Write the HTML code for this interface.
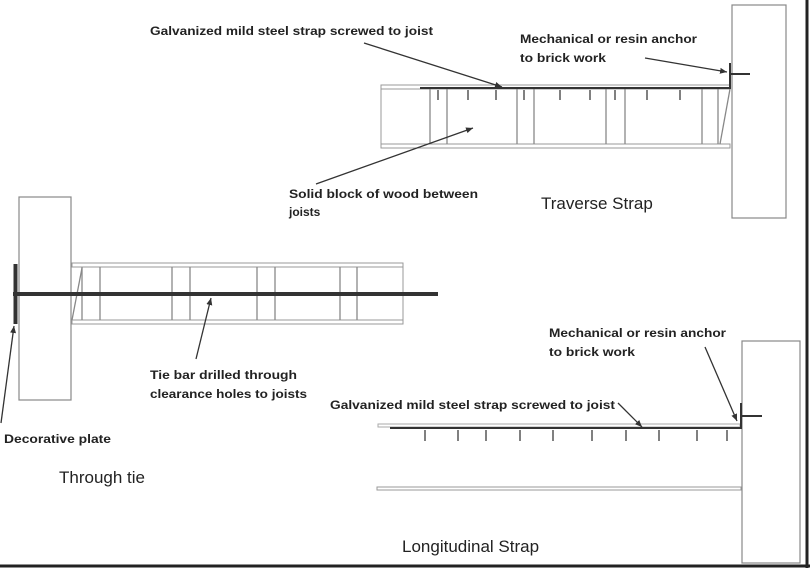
<!DOCTYPE html>
<html><head><meta charset="utf-8"><style>
html,body{margin:0;padding:0;background:#fff;}
svg{display:block;}
text{font-family:"Liberation Sans",sans-serif;fill:#222;}
.s{font-size:12px;font-weight:bold;}
.b{font-size:17px;}
</style></head><body>
<svg width="810" height="568" viewBox="0 0 810 568" xmlns="http://www.w3.org/2000/svg">
<defs><marker id="a" markerWidth="8" markerHeight="8" refX="7" refY="4" orient="auto" markerUnits="userSpaceOnUse"><path d="M0,1 L7,4 L0,7 Z" fill="#333"/></marker></defs>
<rect width="810" height="568" fill="#fff"/>
<line x1="807" y1="0" x2="807" y2="568" stroke="#222" stroke-width="3"/>
<line x1="0" y1="566" x2="810" y2="566" stroke="#222" stroke-width="3"/>

<!-- Traverse strap -->
<rect x="732" y="5" width="54" height="213" fill="none" stroke="#888" stroke-width="1.2"/>
<rect x="381" y="85" width="349" height="4" fill="none" stroke="#999" stroke-width="1"/>
<rect x="381" y="144" width="349" height="4" fill="none" stroke="#999" stroke-width="1"/>
<line x1="381" y1="89" x2="381" y2="144" stroke="#999"/>
<line x1="420" y1="88" x2="731" y2="88" stroke="#333" stroke-width="2"/>
<g stroke="#888" stroke-width="1.3">
<line x1="430" y1="89" x2="430" y2="144"/><line x1="447" y1="89" x2="447" y2="144"/>
<line x1="517" y1="89" x2="517" y2="144"/><line x1="534" y1="89" x2="534" y2="144"/>
<line x1="606" y1="89" x2="606" y2="144"/><line x1="625" y1="89" x2="625" y2="144"/>
<line x1="702" y1="89" x2="702" y2="144"/><line x1="718" y1="89" x2="718" y2="144"/>
<line x1="730" y1="89" x2="720" y2="144"/>
</g>
<g stroke="#555" stroke-width="1.5">
<line x1="438" y1="90" x2="438" y2="100"/><line x1="468" y1="90" x2="468" y2="100"/><line x1="496" y1="90" x2="496" y2="100"/>
<line x1="524" y1="90" x2="524" y2="100"/><line x1="560" y1="90" x2="560" y2="100"/><line x1="590" y1="90" x2="590" y2="100"/>
<line x1="615" y1="90" x2="615" y2="100"/><line x1="647" y1="90" x2="647" y2="100"/><line x1="680" y1="90" x2="680" y2="100"/>
</g>
<line x1="730" y1="63" x2="730" y2="89" stroke="#333" stroke-width="2"/>
<line x1="730" y1="74" x2="750" y2="74" stroke="#333" stroke-width="2"/>

<!-- Through tie -->
<rect x="19" y="197" width="52" height="203" fill="none" stroke="#888" stroke-width="1.2"/>
<rect x="72" y="263" width="331" height="4" fill="none" stroke="#999" stroke-width="1"/>
<rect x="72" y="320" width="331" height="4" fill="none" stroke="#999" stroke-width="1"/>
<line x1="403" y1="267" x2="403" y2="320" stroke="#999"/>
<g stroke="#888" stroke-width="1.3">
<line x1="82" y1="267" x2="82" y2="320"/><line x1="100" y1="267" x2="100" y2="320"/>
<line x1="172" y1="267" x2="172" y2="320"/><line x1="190" y1="267" x2="190" y2="320"/>
<line x1="257" y1="267" x2="257" y2="320"/><line x1="275" y1="267" x2="275" y2="320"/>
<line x1="340" y1="267" x2="340" y2="320"/><line x1="357" y1="267" x2="357" y2="320"/>
<line x1="72" y1="320" x2="82" y2="268"/>
</g>
<line x1="13" y1="294" x2="438" y2="294" stroke="#333" stroke-width="4"/>
<line x1="15.5" y1="264" x2="15.5" y2="324" stroke="#333" stroke-width="4"/>

<!-- Longitudinal strap -->
<rect x="742" y="341" width="58" height="222" fill="none" stroke="#888" stroke-width="1.2"/>
<rect x="378" y="424" width="362" height="3" fill="none" stroke="#aaa" stroke-width="1"/>
<line x1="390" y1="428" x2="742" y2="428" stroke="#333" stroke-width="2"/>
<line x1="741" y1="403" x2="741" y2="429" stroke="#333" stroke-width="2"/>
<line x1="741" y1="416" x2="762" y2="416" stroke="#333" stroke-width="2"/>
<g stroke="#555" stroke-width="1.5">
<line x1="425" y1="430" x2="425" y2="441"/><line x1="458" y1="430" x2="458" y2="441"/><line x1="486" y1="430" x2="486" y2="441"/>
<line x1="520" y1="430" x2="520" y2="441"/><line x1="553" y1="430" x2="553" y2="441"/><line x1="592" y1="430" x2="592" y2="441"/>
<line x1="626" y1="430" x2="626" y2="441"/><line x1="659" y1="430" x2="659" y2="441"/><line x1="697" y1="430" x2="697" y2="441"/>
<line x1="727" y1="430" x2="727" y2="441"/>
</g>
<rect x="377" y="487" width="364" height="3" fill="none" stroke="#999" stroke-width="1"/>

<!-- arrows -->
<g stroke="#333" stroke-width="1.3" fill="none" marker-end="url(#a)">
<line x1="364" y1="43" x2="502" y2="87"/>
<line x1="645" y1="58" x2="727" y2="72"/>
<line x1="316" y1="184" x2="473" y2="128"/>
<line x1="196" y1="359" x2="211" y2="298"/>
<line x1="1" y1="423" x2="14" y2="326"/>
<line x1="705" y1="347" x2="737" y2="421"/>
<line x1="618" y1="403" x2="642" y2="427"/>
</g>

<!-- labels -->
<text class="s" x="150" y="35" textLength="283" lengthAdjust="spacingAndGlyphs">Galvanized mild steel strap screwed to joist</text>
<text class="s" x="520" y="43" textLength="177" lengthAdjust="spacingAndGlyphs">Mechanical or resin anchor</text>
<text class="s" x="520" y="62" textLength="86" lengthAdjust="spacingAndGlyphs">to brick work</text>
<text class="s" x="289" y="198" textLength="189" lengthAdjust="spacingAndGlyphs">Solid block of wood between</text>
<text class="s" x="289" y="216">joists</text>
<text class="b" x="541" y="209">Traverse Strap</text>
<text class="s" x="150" y="379" textLength="147" lengthAdjust="spacingAndGlyphs">Tie bar drilled through</text>
<text class="s" x="150" y="398" textLength="157" lengthAdjust="spacingAndGlyphs">clearance holes to joists</text>
<text class="s" x="4" y="443" textLength="107" lengthAdjust="spacingAndGlyphs">Decorative plate</text>
<text class="b" x="59" y="483">Through tie</text>
<text class="s" x="549" y="337" textLength="177" lengthAdjust="spacingAndGlyphs">Mechanical or resin anchor</text>
<text class="s" x="549" y="356" textLength="86" lengthAdjust="spacingAndGlyphs">to brick work</text>
<text class="s" x="330" y="409" textLength="285" lengthAdjust="spacingAndGlyphs">Galvanized mild steel strap screwed to joist</text>
<text class="b" x="402" y="552">Longitudinal Strap</text>
</svg>
</body></html>
